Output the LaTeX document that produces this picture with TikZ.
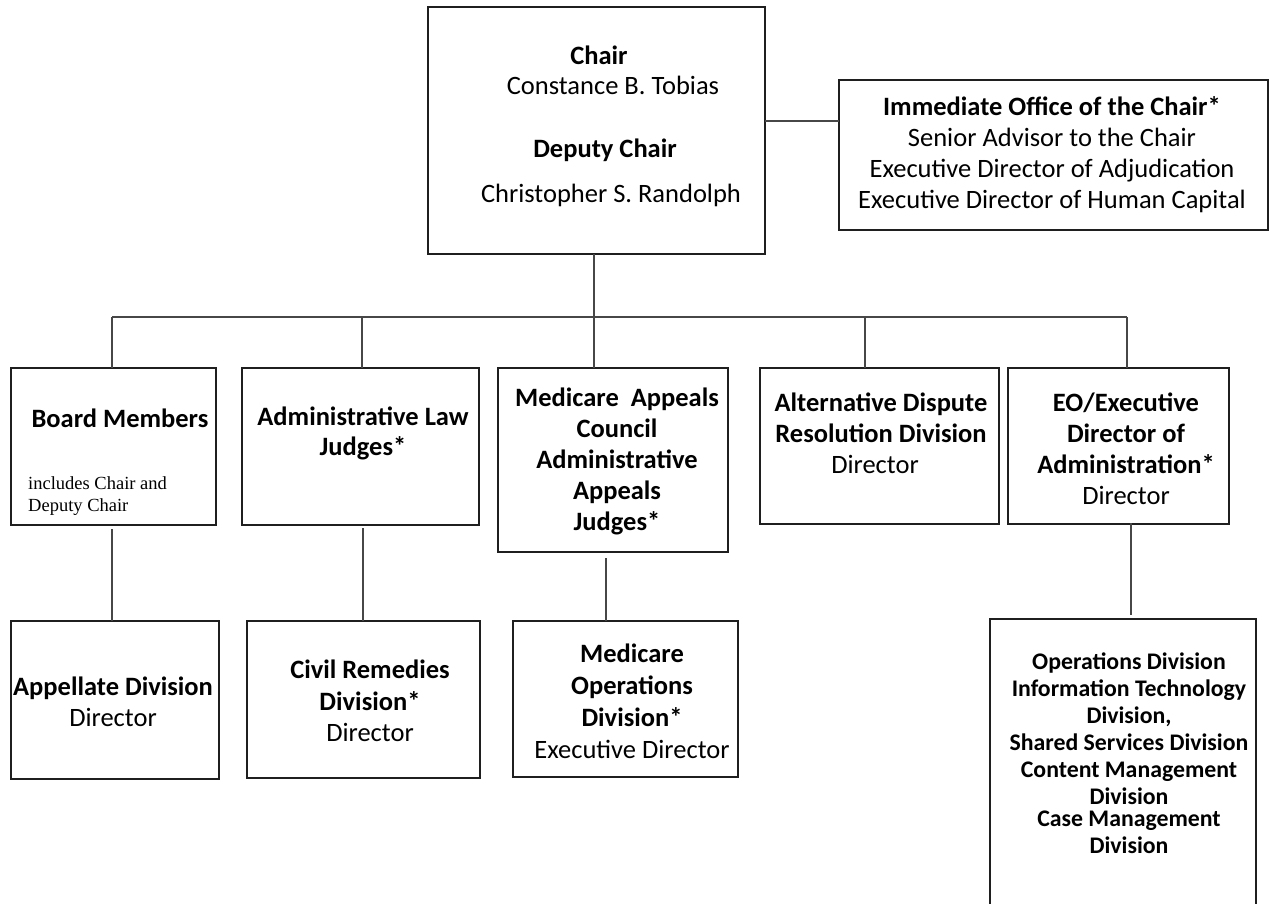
\documentclass[tikz,border=0pt]{standalone}
\usepackage{fontspec}
\setmainfont{Carlito}
\newfontfamily\notefont{Liberation Serif}
\begin{document}
\begin{tikzpicture}[x=1pt,y=-1pt,
  unitbox/.style={draw=black!88, line width=1.5pt, inner sep=0pt, outer sep=0pt},
  link/.style={draw=black!72, line width=1.2pt},
  txt/.style={inner sep=0pt, align=center, font=\fontsize{26.5}{31}\selectfont},
  txtb/.style={txt, font=\fontsize{26.5}{31}\selectfont\bfseries}]

% page
\fill[white] (0,0) rectangle (1270,903);
\useasboundingbox (0,0) rectangle (1270,903);

% --- boxes ---
\node[unitbox, minimum width=337pt, minimum height=247pt] (chair) at (596.5,130.5) {};
\node[unitbox, minimum width=429pt, minimum height=150pt] (imm)   at (1053.5,155) {};
\node[unitbox, minimum width=205pt, minimum height=157pt] (board) at (113.5,446.5) {};
\node[unitbox, minimum width=237pt, minimum height=157pt] (alj)   at (360.5,446.5) {};
\node[unitbox, minimum width=230pt, minimum height=184pt] (mac)   at (613,460) {};
\node[unitbox, minimum width=239pt, minimum height=156pt] (adr)   at (879.5,446) {};
\node[unitbox, minimum width=221pt, minimum height=156pt] (eo)    at (1118.5,446) {};
\node[unitbox, minimum width=208pt, minimum height=158pt] (app)   at (115,700) {};
\node[unitbox, minimum width=233pt, minimum height=157pt] (crd)   at (363.5,699.5) {};
\node[unitbox, minimum width=225pt, minimum height=156pt] (mod)   at (625.5,699) {};
\node[unitbox, minimum width=266pt, minimum height=330pt] (ops)   at (1123,784) {};

% --- texts ---
\node[txtb] (chairT)  at (599,55)  {Chair};
\node[txt]  (chairN)  at (613,85)  {Constance B. Tobias};
\node[txtb] (deputyT) at (605,150) {Deputy Chair};
\node[txt]  (deputyN) at (611,195) {Christopher S. Randolph};

\node[txt] (immT) at (1052,155)
  {\textbf{Immediate Office of the Chair*}\\Senior Advisor to the Chair\\Executive Director of Adjudication\\Executive Director of Human Capital};

\node[txtb] (boardT) at (120,418) {Board Members};
\node[inner sep=0pt, anchor=west, align=left, font=\notefont\fontsize{18.5}{22}\selectfont] (boardN) at (28,496)
  {includes Chair and\\Deputy Chair};

\node[txtb, font=\fontsize{26.5}{30}\selectfont\bfseries] (aljT) at (363,433) {Administrative Law\\Judges*};

\node[txtb] (macT) at (617,461) {Medicare\ \ Appeals\\Council\\Administrative\\Appeals\\Judges*};

\node[txt] (adrT) at (881,418) {\textbf{Alternative Dispute}\\\textbf{Resolution Division}};
\node[txt] (adrD) at (875,464) {Director};

\node[txt] (eoT) at (1126,449) {\textbf{EO/Executive}\\\textbf{Director of}\\\textbf{Administration*}\\Director};

\node[txt] (appT) at (113,702) {\textbf{Appellate Division}\\Director};

\node[txt, font=\fontsize{26.5}{31.5}\selectfont] (crdT) at (370,701) {\textbf{Civil Remedies}\\\textbf{Division*}\\Director};

\node[txt, font=\fontsize{26.5}{32}\selectfont] (modT) at (632,701) {\textbf{Medicare}\\\textbf{Operations}\\\textbf{Division*}\\Executive Director};

\node[inner sep=0pt, align=center, font=\fontsize{23.8}{27}\selectfont\bfseries] (opsT) at (1129,753.5)
  {Operations Division\\Information Technology\\Division,\\Shared Services Division\\Content Management\\Division\\[-5pt]Case Management\\Division};

% --- connectors ---
\coordinate (b1) at (112,317);
\coordinate (b2) at (362,317);
\coordinate (b3) at (594,317);
\coordinate (b4) at (865,317);
\coordinate (b5) at (1127,317);
\coordinate (ioc) at (839,121);

\draw[link] (chair.south -| b3) -- (b3);
\draw[link] (b1) -- (b5);
\foreach \c/\n in {b1/board,b2/alj,b3/mac,b4/adr,b5/eo}
  \draw[link] (\c) -- (\c |- \n.north);
\draw[link] (chair.east |- ioc) -- (ioc);

\coordinate (d1) at (112,529);
\coordinate (d2) at (363,528);
\coordinate (d3) at (606,558);
\coordinate (d4) at (1131,523);
\coordinate (d4e) at (1131,615);
\draw[link] (d1) -- (d1 |- app.north);
\draw[link] (d2) -- (d2 |- crd.north);
\draw[link] (d3) -- (d3 |- mod.north);
\draw[link] (d4) -- (d4e);
\end{tikzpicture}
\end{document}
